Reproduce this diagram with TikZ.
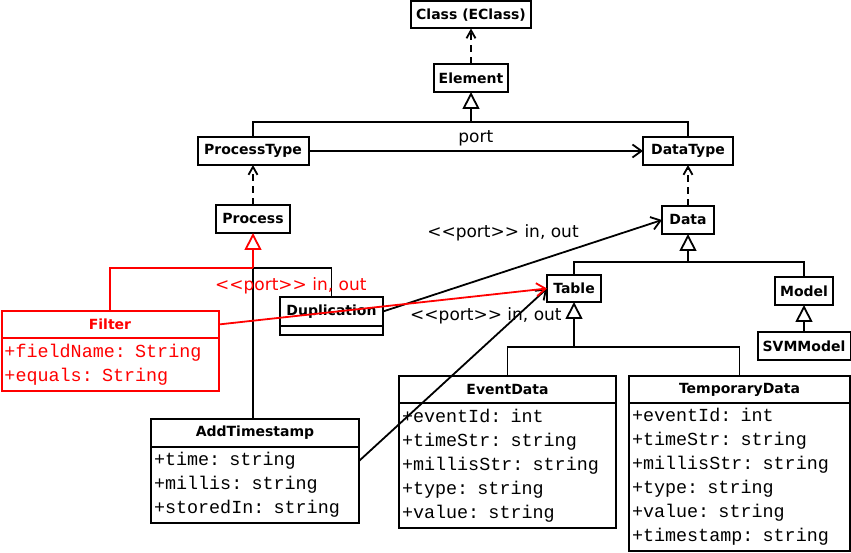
\documentclass[tikz,border=0pt]{standalone}
\usepackage{fontspec}
\usetikzlibrary{arrows.meta,positioning}
\newfontfamily\umlsans{DejaVu Sans}
\newfontfamily\umlmono{Liberation Mono}
\newcommand{\portinout}{<\kern0pt<port>\kern0pt> in, out}

\tikzset{
  umlclass/.style={draw, line width=2pt, outer sep=0pt, inner sep=0pt,
    minimum height=28pt, font=\umlsans\bfseries\fontsize{14}{16}\selectfont},
  attrbox/.style={draw, line width=2pt, outer sep=0pt, inner xsep=3pt,
    inner ysep=0pt, align=left, font=\umlmono\fontsize{18.4}{24}\selectfont},
  conn/.style={line width=1.8pt},
  dep/.style={conn, dash pattern=on 7pt off 5pt,
    -{Straight Barb[length=8pt, width=9pt]}},
  gen/.style={conn, -{Triangle[open, length=17pt, width=17pt, fill=white]}},
  assoc/.style={conn, -{Straight Barb[length=9pt, width=13pt]}},
  portlabel/.style={font=\umlsans\fontsize{17}{19}\selectfont, inner sep=0pt},
}

\begin{document}
\begin{tikzpicture}[x=1pt, y=1pt]
  \useasboundingbox (0,0) rectangle (851,553);

  % metamodel
  \node[umlclass, minimum width=120pt, minimum height=27pt] (eclass) at (471,538) {Class (EClass)};
  \node[umlclass, minimum width=74pt] (element) at (471,475) {Element};
  \node[umlclass, minimum width=111pt] (ptype) at (253,402) {ProcessType};
  \node[umlclass, minimum width=90pt] (dtype) at (688,402) {DataType};
  \node[umlclass, minimum width=74pt] (process) at (253,334) {Process};
  \node[umlclass, minimum width=52pt] (data) at (688,333) {Data};
  \node[umlclass, minimum width=54pt, minimum height=27pt] (table) at (574,264.5) {Table};
  \node[umlclass, minimum width=58pt] (model) at (804,262) {Model};
  \node[umlclass, minimum width=93pt] (svm) at (804,207) {SVMModel};

  % processes
  \node[umlclass, minimum width=103pt, minimum height=29pt] (dup) at (331.5,241.5) {Duplication};
  \node[attrbox, below=0pt of dup, minimum width=103pt, minimum height=9pt] (dupattr) {};
  \node[umlclass, red, minimum width=217pt, minimum height=27pt] (filter) at (110,228.5) {Filter};
  \node[attrbox, red, below=0pt of filter, text width=211pt, minimum height=53pt] (filterattr)
    {+fieldName: String\\+equals: String};
  \node[umlclass, minimum width=208pt] (addts) at (255,120) {AddTimestamp};
  \node[attrbox, below=0pt of addts, text width=202pt, minimum height=76pt] (addtsattr)
    {+time: string\\+millis: string\\+storedIn: string};

  % tables
  \node[umlclass, minimum width=217pt, minimum height=27pt] (event) at (507.5,163.5) {EventData};
  \node[attrbox, below=0pt of event, text width=211pt, minimum height=125pt] (eventattr)
    {+eventId: int\\+timeStr: string\\+millisStr: string\\+type: string\\+value: string};
  \node[umlclass, minimum width=221pt, minimum height=27pt] (temp) at (739.5,163.5) {TemporaryData};
  \node[attrbox, below=0pt of temp, text width=215pt, minimum height=148pt] (tempattr)
    {+eventId: int\\+timeStr: string\\+millisStr: string\\+type: string\\+value: string\\+timestamp: string};

  % hierarchy
  \coordinate (topbar) at (471,431);
  \coordinate (databar) at (688,291);
  \coordinate (tablebar) at (574,206);
  \coordinate (procbar) at (253,285);

  \draw[dep] (element.north) -- (eclass.south);
  \draw[conn] (ptype.north) |- (topbar) -| (dtype.north);
  \draw[gen] (topbar) -- (element.south);
  \draw[assoc] (ptype) -- node[portlabel, above=4pt] {port} (dtype);
  \draw[dep] (process.north) -- (ptype.south);
  \draw[dep] (data.north) -- (dtype.south);

  \draw[conn] (table.north) |- (databar) -| (model.north);
  \draw[gen] (databar) -- (data.south);
  \draw[gen] (svm.north) -- (model.south);
  \draw[conn] (event.north) |- (tablebar) -| (temp.north);
  \draw[gen] (tablebar) -- (table.south);

  \draw[conn] (procbar) -| (dup.north);
  \draw[conn] (procbar) -- (procbar |- addts.north);
  \draw[conn, red] (filter.north) |- (procbar);
  \draw[gen, red] (procbar) -- (process.south);

  % ports
  \draw[assoc] (dup.east) -- node[portlabel, pos=0.43, above=30pt] {\portinout} (data.west);
  \draw[assoc] ([yshift=24pt]addtsattr.east) -- node[portlabel, pos=0.675, above=20pt] {\portinout} (table.west);
  \draw[assoc, red] (filter.east) -- node[portlabel, pos=0.22, above=21.5pt] {\portinout} (table.west);
\end{tikzpicture}
\end{document}
